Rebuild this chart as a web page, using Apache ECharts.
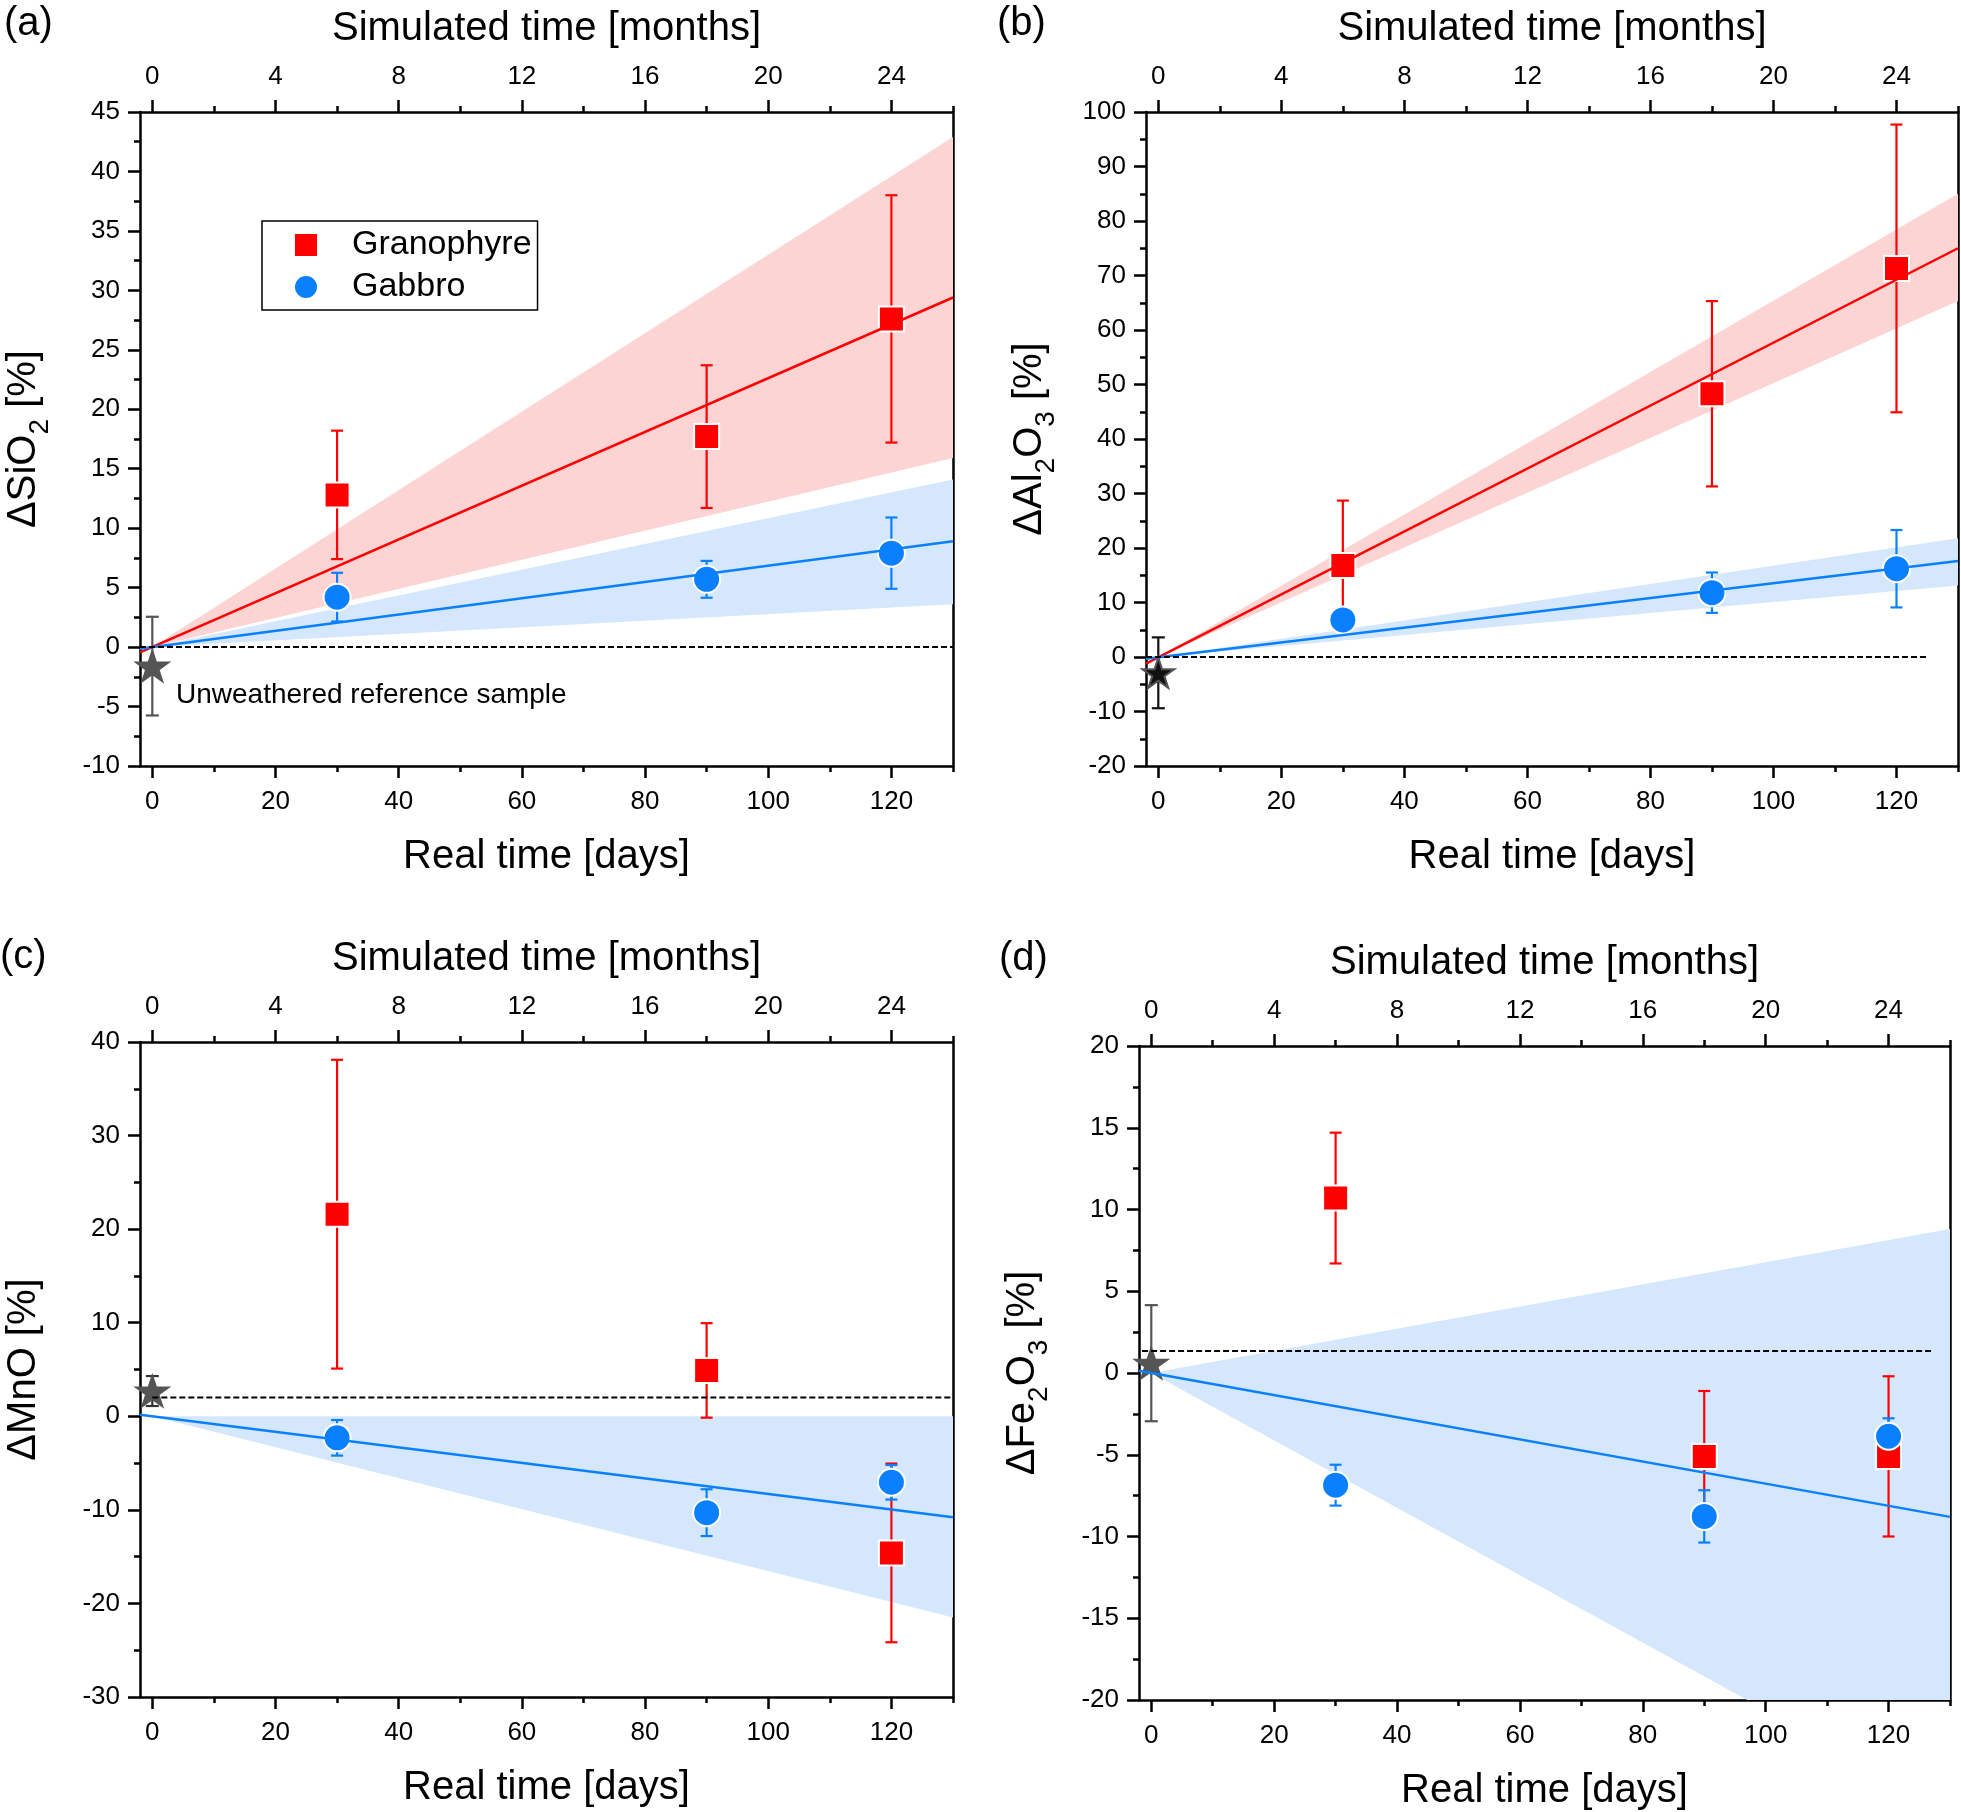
<!DOCTYPE html>
<html><head><meta charset="utf-8">
<script src="https://cdn.jsdelivr.net/npm/echarts@6/dist/echarts.min.js"></script>
<style>html,body{margin:0;padding:0;background:#fff}#chart{width:1961px;height:1812px}</style>
</head><body><div id="chart"></div>
<script>
// ================= DATA =================
const sampleDays = [30, 90, 120];
const dayTicks = [0, 20, 40, 60, 80, 100, 120];
const dayMinorTicks = [10, 30, 50, 70, 90, 110, 130];
const monthTicks = [0, 4, 8, 12, 16, 20, 24];
const monthMinorTicks = [2, 6, 10, 14, 18, 22, 26];

// (a) SiO2
const sio2Axis = [-10, 45, 5];
const sio2GranVal = [12.8, 17.7, 27.6];
const sio2GranErr = [5.4, 6.0, 10.4];
const sio2GabVal = [4.2, 5.7, 7.9];
const sio2GabErr = [2.05, 1.55, 3.0];
const sio2Ref = [0, -1.6, 4.15];
const sio2GranFit = [[-2, -0.45], [130, 29.4]];
const sio2GabFit = [[-2, -0.14], [130, 8.9]];
const sio2GranBand = [[0, 0, 0], [130, 42.9, 15.9]];
const sio2GabBand = [[0, 0, 0], [130, 14.1, 3.6]];
const sio2Baseline = [[-2, 0], [130, 0]];

// (b) Al2O3
const al2o3Axis = [-20, 100, 10];
const al2o3GranVal = [16.8, 48.3, 71.3];
const al2o3GranErr = [11.9, 17.0, 26.4];
const al2o3GabVal = [6.8, 11.8, 16.2];
const al2o3GabErr = [1.0, 3.7, 7.1];
const al2o3Ref = [0, -2.9, 6.5];
const al2o3GranFit = [[-2, -1.2], [130, 75.0]];
const al2o3GabFit = [[-2, -0.3], [130, 17.6]];
const al2o3GranBand = [[0, 0, 0], [130, 85.0, 65.3]];
const al2o3GabBand = [[0, 0, 0], [130, 21.8, 13.1]];
const al2o3Baseline = [[-2, 0], [125, 0]];

// (c) MnO
const mnoAxis = [-30, 40, 10];
const mnoGranVal = [21.6, 4.9, -14.6];
const mnoGranErr = [16.5, 5.05, 9.55];
const mnoGabVal = [-2.3, -10.3, -7.05];
const mnoGabErr = [1.9, 2.5, 1.85];
const mnoRef = [0, 2.7, 1.6];
const mnoGabFit = [[-2, 0.16], [130, -10.8]];
const mnoGabBand = [[0, 0, 0], [130, 0, -21.5]];
const mnoBaseline = [[0, 2.0], [130, 2.0]];

// (d) Fe2O3
const fe2o3Axis = [-20, 20, 5];
const fe2o3GranVal = [10.7, -5.1, -5.1];
const fe2o3GranErr = [4.0, 4.0, 4.9];
const fe2o3GabVal = [-6.86, -8.77, -3.87];
const fe2o3GabErr = [1.25, 1.6, 1.1];
const fe2o3Ref = [0, 0.6, 3.55];
const fe2o3GabFit = [[-2, 0.14], [130, -8.8]];
const fe2o3GabBand = [[0, 0, 0], [130, 8.8, -26.8]];
const fe2o3Baseline = [[-1.5, 1.35], [127, 1.35]];

// ================= STYLE / LAYOUT =================
const FONT = "'Liberation Sans', Arial, sans-serif";
const RED = '#ff0000', BLUE = '#0a80ff';
const RED_BAND = '#fdd4d4', BLUE_BAND = '#d4e7fc';
const STAR = 'path://M50,0L61.23,34.55L97.55,34.55L68.17,55.9L79.39,90.45L50,69.1L20.61,90.45L31.83,55.9L2.45,34.55L38.77,34.55Z';
const grids = [
  {left: 140, top: 112, width: 813, height: 654},
  {left: 1146, top: 112, width: 812, height: 654},
  {left: 140, top: 1042, width: 813, height: 655},
  {left: 1139, top: 1046, width: 811, height: 654}
];
const AX = {color: '#000', width: 2.5};

const panels = [
  {yName: '{a|ΔSiO}{s|2}{a| [%]}', yAxis: sio2Axis,
   gran: {val: sio2GranVal, err: sio2GranErr, fit: sio2GranFit, band: sio2GranBand},
   gab: {val: sio2GabVal, err: sio2GabErr, fit: sio2GabFit, band: sio2GabBand},
   ref: sio2Ref, refFill: '#555', refBorder: '#555', refBar: '#555', baseline: sio2Baseline},
  {yName: '{a|ΔAl}{s|2}{a|O}{s|3}{a| [%]}', yAxis: al2o3Axis,
   gran: {val: al2o3GranVal, err: al2o3GranErr, fit: al2o3GranFit, band: al2o3GranBand},
   gab: {val: al2o3GabVal, err: al2o3GabErr, fit: al2o3GabFit, band: al2o3GabBand},
   ref: al2o3Ref, refFill: '#111', refBorder: '#555', refBar: '#111', baseline: al2o3Baseline},
  {yName: '{a|ΔMnO [%]}', yAxis: mnoAxis,
   gran: {val: mnoGranVal, err: mnoGranErr},
   gab: {val: mnoGabVal, err: mnoGabErr, fit: mnoGabFit, band: mnoGabBand},
   ref: mnoRef, refFill: '#555', refBorder: '#555', refBar: '#333', baseline: mnoBaseline},
  {yName: '{a|ΔFe}{s|2}{a|O}{s|3}{a| [%]}', yAxis: fe2o3Axis,
   gran: {val: fe2o3GranVal, err: fe2o3GranErr},
   gab: {val: fe2o3GabVal, err: fe2o3GabErr, fit: fe2o3GabFit, band: fe2o3GabBand},
   ref: fe2o3Ref, refFill: '#555', refBorder: '#555', refBar: '#555', baseline: fe2o3Baseline}
];

const xAxes = [], yAxes = [], series = [];

function bandSeries(data, color, xi, yi) {
  return {type: 'custom', xAxisIndex: xi, yAxisIndex: yi, clip: true, silent: true, data: data,
    renderItem: function (params, api) {
      if (params.dataIndex !== 0) return null;
      const up = [], lo = [];
      data.forEach(function (d) { up.push(api.coord([d[0], d[1]])); lo.unshift(api.coord([d[0], d[2]])); });
      return {type: 'polygon', shape: {points: up.concat(lo)}, style: {fill: color}};
    }};
}
function errSeries(data, color, xi, yi, cap) {
  return {type: 'custom', xAxisIndex: xi, yAxisIndex: yi, silent: true, data: data,
    renderItem: function (params, api) {
      const x = api.value(0), y = api.value(1), e = api.value(2);
      const hi = api.coord([x, y + e]), lo = api.coord([x, y - e]);
      const w = cap / 2;
      const st = {stroke: color, lineWidth: 2.2, fill: null};
      return {type: 'group', children: [
        {type: 'line', shape: {x1: hi[0], y1: hi[1], x2: lo[0], y2: lo[1]}, style: st},
        {type: 'line', shape: {x1: hi[0] - w, y1: hi[1], x2: hi[0] + w, y2: hi[1]}, style: st},
        {type: 'line', shape: {x1: lo[0] - w, y1: lo[1], x2: lo[0] + w, y2: lo[1]}, style: st}
      ]};
    }};
}
function lineSeries(data, color, xi, yi, dashed) {
  return {type: 'line', xAxisIndex: xi, yAxisIndex: yi, data: data, symbol: 'none', silent: true,
    lineStyle: {color: color, width: dashed ? 2 : 2.5, type: dashed ? [6, 3] : 'solid'}};
}

panels.forEach(function (p, g) {
  const xi = 4 * g, yi = 2 * g;
  xAxes.push(
    {gridIndex: g, type: 'value', position: 'bottom', min: -2, max: 130,
     axisLine: {show: true, onZero: false, lineStyle: AX},
     axisTick: {show: true, customValues: dayTicks, length: 12, lineStyle: AX},
     axisLabel: {customValues: dayTicks, fontSize: 26, color: '#000', margin: 23, fontFamily: FONT},
     splitLine: {show: false},
     name: 'Real time [days]', nameLocation: 'middle', nameGap: 71,
     nameTextStyle: {fontSize: 40, color: '#000', fontFamily: FONT}},
    {gridIndex: g, type: 'value', position: 'bottom', min: -2, max: 130,
     axisLine: {show: false, onZero: false},
     axisTick: {show: true, customValues: dayMinorTicks, length: 6, lineStyle: AX},
     axisLabel: {show: false}, splitLine: {show: false}},
    {gridIndex: g, type: 'value', position: 'top', min: -0.4, max: 26,
     axisLine: {show: true, onZero: false, lineStyle: AX},
     axisTick: {show: true, customValues: monthTicks, length: 12, lineStyle: AX},
     axisLabel: {customValues: monthTicks, fontSize: 26, color: '#000', margin: 22, fontFamily: FONT},
     splitLine: {show: false},
     name: 'Simulated time [months]', nameLocation: 'middle', nameGap: 63,
     nameTextStyle: {fontSize: 40, color: '#000', fontFamily: FONT}},
    {gridIndex: g, type: 'value', position: 'top', min: -0.4, max: 26,
     axisLine: {show: false, onZero: false},
     axisTick: {show: true, customValues: monthMinorTicks, length: 6, lineStyle: AX},
     axisLabel: {show: false}, splitLine: {show: false}}
  );
  yAxes.push(
    {gridIndex: g, type: 'value', position: 'left', min: p.yAxis[0], max: p.yAxis[1], interval: p.yAxis[2],
     axisLine: {show: true, onZero: false, lineStyle: AX},
     axisTick: {show: true, length: 12, lineStyle: AX},
     minorTick: {show: true, splitNumber: 2, length: 6, lineStyle: AX},
     axisLabel: {fontSize: 26, color: '#000', margin: 20, fontFamily: FONT},
     splitLine: {show: false}, minorSplitLine: {show: false},
     name: p.yName, nameLocation: 'middle', nameGap: 92,
     nameTextStyle: {color: '#000', fontFamily: FONT, fontSize: 40, rich: {
       a: {fontSize: 40, fontFamily: FONT, color: '#000', lineHeight: 44, verticalAlign: 'top'},
       s: {fontSize: 28, fontFamily: FONT, color: '#000', lineHeight: 28, padding: [22, 0, 0, 0], verticalAlign: 'top'}
     }}},
    {gridIndex: g, type: 'value', position: 'right', min: p.yAxis[0], max: p.yAxis[1], interval: p.yAxis[2],
     axisLine: {show: true, onZero: false, lineStyle: AX},
     axisTick: {show: false}, axisLabel: {show: false}, splitLine: {show: false}}
  );

  if (p.gran.band) series.push(bandSeries(p.gran.band, RED_BAND, xi, yi));
  if (p.gab.band) series.push(bandSeries(p.gab.band, BLUE_BAND, xi, yi));
  if (p.gran.fit) series.push(lineSeries(p.gran.fit, RED, xi, yi));
  if (p.gab.fit) series.push(lineSeries(p.gab.fit, BLUE, xi, yi));
  series.push(lineSeries(p.baseline, '#000', xi, yi, true));
  series.push(errSeries([p.ref], p.refBar, xi, yi, 13));
  series.push(errSeries(sampleDays.map(function (d, k) { return [d, p.gran.val[k], p.gran.err[k]]; }), RED, xi, yi, 12));
  series.push(errSeries(sampleDays.map(function (d, k) { return [d, p.gab.val[k], p.gab.err[k]]; }), BLUE, xi, yi, 12));
  series.push({type: 'scatter', name: 'Reference', xAxisIndex: xi, yAxisIndex: yi, silent: true,
    data: [[p.ref[0], p.ref[1]]], symbol: STAR, symbolSize: [32, 30],
    itemStyle: {color: p.refFill, borderColor: p.refBorder, borderWidth: 2, opacity: 1}});
  series.push({type: 'scatter', name: 'Granophyre', xAxisIndex: xi, yAxisIndex: yi, silent: true,
    data: sampleDays.map(function (d, k) { return [d, p.gran.val[k]]; }), symbol: 'rect', symbolSize: 25,
    itemStyle: {color: RED, borderColor: '#fff', borderWidth: 2, opacity: 1}});
  series.push({type: 'scatter', name: 'Gabbro', xAxisIndex: xi, yAxisIndex: yi, silent: true,
    data: sampleDays.map(function (d, k) { return [d, p.gab.val[k]]; }), symbol: 'circle', symbolSize: 27,
    itemStyle: {color: BLUE, borderColor: '#fff', borderWidth: 2, opacity: 1}});
});

function label(text, x, y, size) {
  return {type: 'text', x: x, y: y, silent: true,
    style: {text: text, fontSize: size, fontFamily: FONT, fill: '#000', verticalAlign: 'middle', align: 'left'}};
}

const option = {
  animation: false,
  backgroundColor: '#fff',
  textStyle: {fontFamily: FONT},
  grid: grids,
  xAxis: xAxes,
  yAxis: yAxes,
  legend: {
    left: 262, top: 221, orient: 'vertical', selectedMode: false,
    borderColor: '#000', borderWidth: 1.5, padding: [5, 6, 4, 31], itemGap: 4,
    itemWidth: 24, itemHeight: 24,
    data: [{name: 'Granophyre', icon: 'rect'}, {name: 'Gabbro', icon: 'circle'}],
    textStyle: {fontSize: 34, color: '#000', fontFamily: FONT, lineHeight: 38, padding: [0, 0, 0, 29]}
  },
  graphic: [
    label('(a)', 4, 24, 40),
    label('(b)', 997, 24, 40),
    label('(c)', 0, 957, 40),
    label('(d)', 999, 959, 40),
    label('Unweathered reference sample', 176, 695, 28)
  ],
  series: series
};

const chart = echarts.init(document.getElementById('chart'), null, {renderer: 'canvas'});
chart.setOption(option);
</script>
</body></html>
